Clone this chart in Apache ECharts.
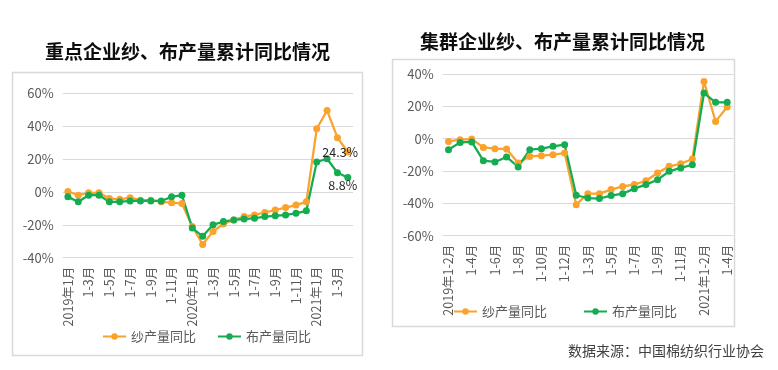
<!DOCTYPE html>
<html><head><meta charset="utf-8">
<script src="https://cdn.jsdelivr.net/npm/echarts@6/dist/echarts.min.js"></script>
<style>html,body{margin:0;padding:0;background:#fff}#c{width:778px;height:370px}</style>
</head><body><div id="c"></div>
<script>
// Left chart: 重点企业
const leftCategories = ['2019年1月','1-2月','1-3月','1-4月','1-5月','1-6月','1-7月','1-8月','1-9月','1-10月','1-11月','1-12月',
  '2020年1月','1-2月','1-3月','1-4月','1-5月','1-6月','1-7月','1-8月','1-9月','1-10月','1-11月','1-12月',
  '2021年1月','1-2月','1-3月','1-4月'];
const leftYarn = [0.3,-2,-0.5,-0.5,-4,-4.5,-3.5,-5,-5,-6,-6.5,-7,-21,-32,-24,-19.5,-17,-15,-14,-12.5,-11,-9.5,-8,-6,38.4,49.5,33,24.3];
const leftCloth = [-3,-6,-2,-2,-6,-6,-5.5,-5.5,-5.5,-5.5,-3,-2,-22,-27,-20,-18,-17,-16.5,-16,-15,-14.5,-14,-13,-11.5,18.2,20.2,11.7,8.8];
const leftYTicks = {min:-40, max:60, interval:20};

// Right chart: 集群企业
const rightCategories = ['2019年1-2月','1-3月','1-4月','1-5月','1-6月','1-7月','1-8月','1-9月','1-10月','1-11月','1-12月',
  '2020年1-2月','1-3月','1-4月','1-5月','1-6月','1-7月','1-8月','1-9月','1-10月','1-11月','1-12月',
  '2021年1-2月','1-3月','1-4月'];
const rightYarn = [-1.7,-0.6,-0.2,-5.4,-6.2,-6.4,-15,-11,-10.5,-9.9,-8.9,-40.8,-34,-34,-31.5,-29.5,-28.4,-26,-21.2,-17.1,-15.5,-12.6,35.4,10.7,19.6];
const rightCloth = [-6.8,-2.3,-2,-13.6,-14.4,-11.3,-17.5,-6.8,-6.2,-4.7,-3.7,-35,-36.7,-37,-35.2,-34,-30.9,-28.4,-25.4,-20.2,-18.1,-16.1,28.2,22.5,22.5];
const rightYTicks = {min:-60, max:40, interval:20};

const seriesNames = ['纱产量同比','布产量同比'];
const titles = ['重点企业纱、布产量累计同比情况','集群企业纱、布产量累计同比情况'];
const sourceText = '数据来源：中国棉纺织行业协会';

const ORANGE = '#FAA22B', GREEN = '#15AB50';
const FONT = '"Noto Sans CJK SC","Noto Sans",sans-serif';
const GRIDC = '#D9D9D9';

function withLastLabel(arr, pos) {
  return arr.map((v, i) => i === arr.length - 1 ? {
    value: v,
    label: {show: true, position: pos, formatter: v.toFixed(1) + '%',
      color: '#262626', fontSize: 12.5, fontFamily: FONT}
  } : v);
}

function xAxis(idx, cats) {
  return {type: 'category', gridIndex: idx, data: cats, boundaryGap: true,
    axisLine: {show: false}, axisTick: {show: false},
    axisLabel: {interval: 1, rotate: 90, margin: 9, color: '#595959', fontSize: 12.5, fontFamily: FONT}};
}
function yAxis(idx, t) {
  return {type: 'value', gridIndex: idx, min: t.min, max: t.max, interval: t.interval,
    axisLine: {show: false}, axisTick: {show: false},
    axisLabel: {formatter: '{value}%', color: '#595959', fontSize: 13, margin: 9, fontFamily: FONT},
    splitLine: {lineStyle: {color: GRIDC, width: 1}}};
}
function line(name, idx, data, color) {
  return {name: name, type: 'line', xAxisIndex: idx, yAxisIndex: idx, data: data,
    symbol: 'circle', symbolSize: 7, showSymbol: true, showAllSymbol: true,
    lineStyle: {width: 2.25, color: color},
    itemStyle: {color: color}, labelLayout: {hideOverlap: false}, animation: false};
}

const legendStyle = {color: '#595959', fontSize: 13, fontFamily: FONT};

const chart = echarts.init(document.getElementById('c'), null, {renderer: 'canvas'});
chart.setOption({
  animation: false,
  textStyle: {fontFamily: FONT},
  grid: [
    {left: 62.7, right: 425, top: 93.3, bottom: 112.3},
    {left: 442.7, right: 45, top: 74, bottom: 134.3}
  ],
  xAxis: [xAxis(0, leftCategories), xAxis(1, rightCategories)],
  yAxis: [yAxis(0, leftYTicks), yAxis(1, rightYTicks)],
  legend: [
    {left: 97, top: 325, itemWidth: 23, itemHeight: 8, itemGap: 21,
      data: [{name: seriesNames[0]}, {name: seriesNames[1]}], textStyle: legendStyle},
    {left: 448, top: 300, itemWidth: 23, itemHeight: 8, itemGap: 36,
      data: [{name: seriesNames[0]}, {name: seriesNames[1]}], textStyle: legendStyle}
  ],
  series: [
    line(seriesNames[0], 0, withLastLabel(leftYarn, [-22, -2]), ORANGE),
    line(seriesNames[1], 0, withLastLabel(leftCloth, [-16, 5]), GREEN),
    line(seriesNames[0], 1, rightYarn, ORANGE),
    line(seriesNames[1], 1, rightCloth, GREEN)
  ],
  graphic: [
    {type: 'rect', z: -1, shape: {x: 12.5, y: 72.5, width: 350, height: 283}, style: {fill: '#fff', stroke: GRIDC, lineWidth: 1.5}},
    {type: 'rect', z: -1, shape: {x: 392.5, y: 59.5, width: 342, height: 267}, style: {fill: '#fff', stroke: GRIDC, lineWidth: 1.5}},
    {type: 'text', x: 187.5, y: 51.5, style: {text: titles[0], fill: '#0d0d0d', font: 'bold 19px ' + FONT, textAlign: 'center', textVerticalAlign: 'middle'}},
    {type: 'text', x: 562.5, y: 41.5, style: {text: titles[1], fill: '#0d0d0d', font: 'bold 19px ' + FONT, textAlign: 'center', textVerticalAlign: 'middle'}},
    {type: 'text', x: 764, y: 350.5, style: {text: sourceText, fill: '#404040', font: '14px ' + FONT, textAlign: 'right', textVerticalAlign: 'middle'}}
  ]
});
</script></body></html>
